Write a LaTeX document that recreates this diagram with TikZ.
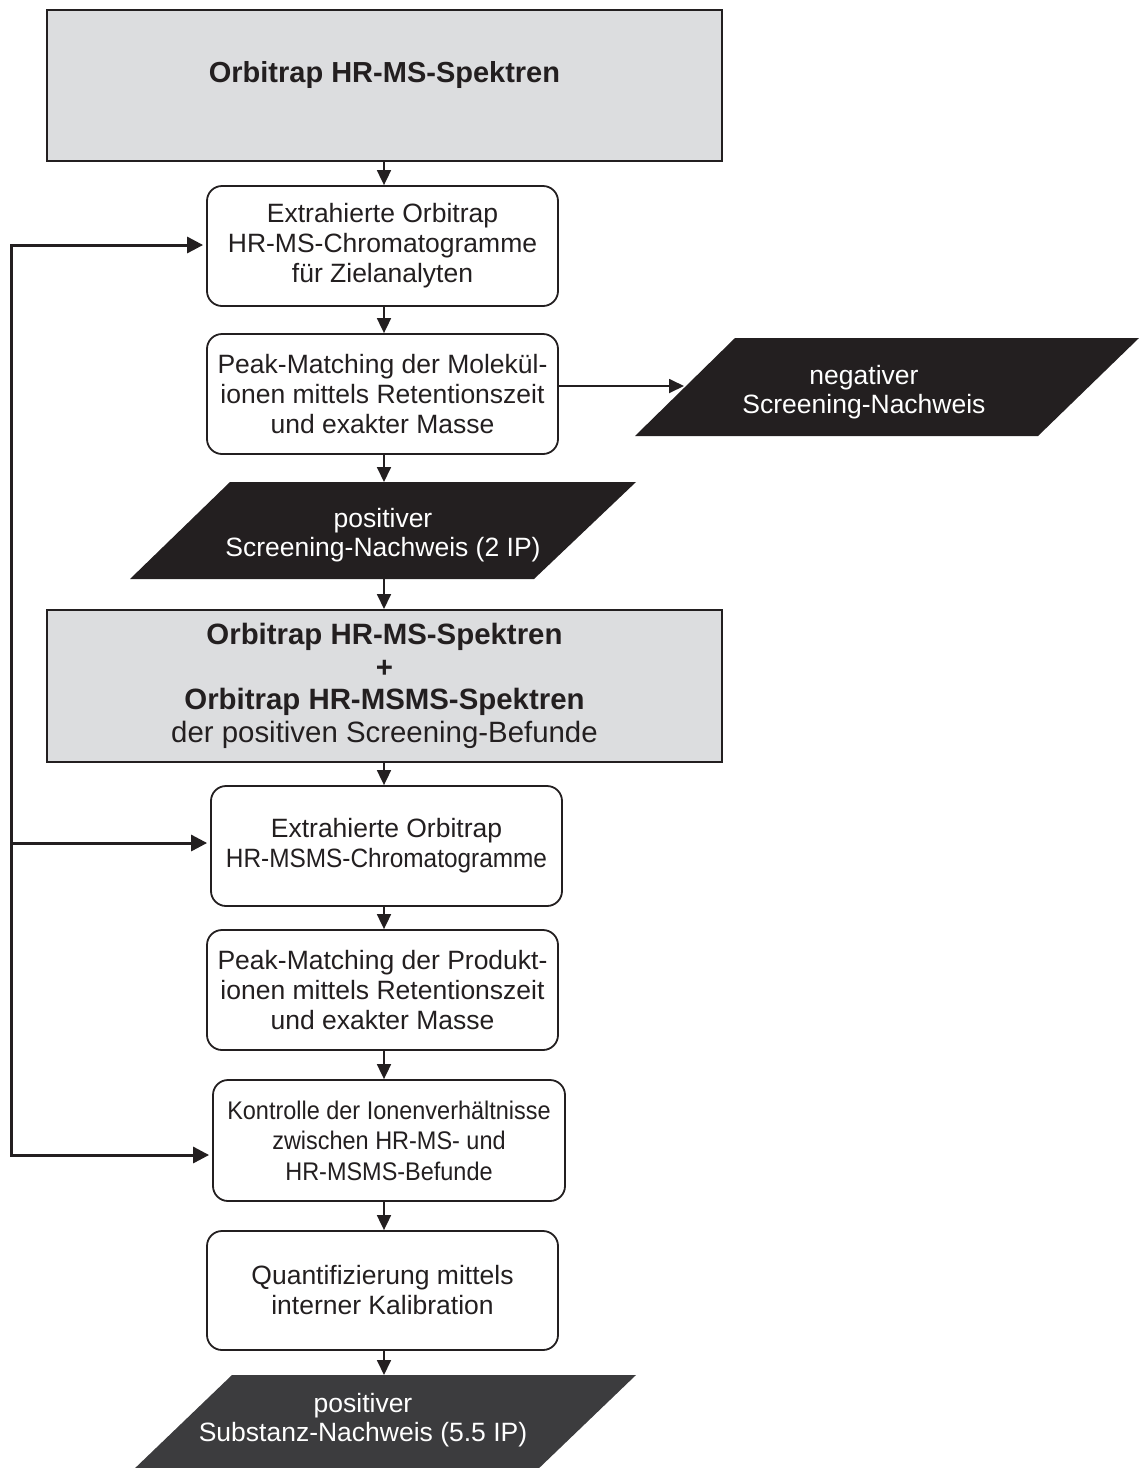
\documentclass[tikz,border=0pt]{standalone}
\usepackage{fontspec}
\setmainfont{Liberation Sans}
\newfontfamily\condfont[FakeStretch=0.92]{Liberation Sans}
\usetikzlibrary{arrows.meta}
\definecolor{ink}{HTML}{231F20}
\definecolor{boxgray}{HTML}{DCDDDF}
\definecolor{darkpar}{HTML}{3C3C3E}
\tikzset{
  graybox/.style={draw=ink, line width=2pt, fill=boxgray, inner sep=0pt, align=center, text=ink},
  rbox/.style={draw=ink, line width=1.8pt, rounded corners=15pt, fill=white, inner sep=0pt, align=center, text=ink,
     font=\fontsize{26.5}{30}\selectfont},
  partext/.style={inner sep=0pt, align=center, text=white, font=\fontsize{26.5}{29.5}\selectfont},
  arr/.style={draw=ink, line width=1.8pt, -{Triangle[length=15pt,width=14pt]}},
  fbarr/.style={draw=ink, line width=3pt, line join=miter, -{Triangle[length=16pt,width=16pt]}, shorten >=3pt},
}
\begin{document}
\begin{tikzpicture}[x=1pt,y=-1pt]
\useasboundingbox (0,0) rectangle (1139,1468);
\coordinate (cx) at (384,0);

% top gray box
\node[graybox, minimum width=675pt, minimum height=151pt] (g1) at (384.5,85.5) {};
\node[anchor=base, inner sep=0pt, text=ink, font=\fontsize{29}{33}\selectfont\bfseries] (g1t) at (384.5,82) {Orbitrap HR-MS-Spektren};

\node[rbox, minimum width=351pt, minimum height=120pt] (b2) at (382.5,246) {Extrahierte Orbitrap\\HR-MS-Chromatogramme\\für Zielanalyten};
\node[rbox, minimum width=351pt, minimum height=120pt] (b3) at (382.5,394) {Peak-Matching der Molekül-\\ionen mittels Retentionszeit\\und exakter Masse};

% negative parallelogram
\fill[ink] (735,338) -- (1139,338) -- (1038,436) -- (635,436) -- cycle;
\node[partext] (neg) at (864,392) {negativer\\Screening-Nachweis};
\coordinate (negin) at (684,386);

% positive screening parallelogram
\fill[ink] (230,482) -- (636,482) -- (534,579) -- (130,579) -- cycle;
\node[partext] (pos1) at (383,535) {positiver\\Screening-Nachweis (2 IP)};
\coordinate (p1top) at (384,482);
\coordinate (p1bot) at (384,579);

% second gray box
\node[graybox, minimum width=675pt, minimum height=152pt, font=\fontsize{29.4}{32.7}\selectfont] (g2) at (384.5,686)
  {\textbf{Orbitrap HR-MS-Spektren}\\\textbf{+}\\\textbf{Orbitrap HR-MSMS-Spektren}\\der positiven Screening-Befunde};

\node[rbox, minimum width=351pt, minimum height=120pt] (b5) at (386.5,846) {Extrahierte Orbitrap\\{\condfont HR-MSMS-Chromatogramme}};
\node[rbox, minimum width=351pt, minimum height=120pt] (b6) at (382.5,990) {Peak-Matching der Produkt-\\ionen mittels Retentionszeit\\und exakter Masse};
\node[rbox, minimum width=352pt, minimum height=121pt, font=\condfont\fontsize{25.5}{30.5}\selectfont] (b7) at (389,1140.5) {Kontrolle der Ionenverhältnisse\\zwischen HR-MS- und\\HR-MSMS-Befunde};
\node[rbox, minimum width=351pt, minimum height=119pt] (b8) at (382.5,1290.5) {Quantifizierung mittels\\interner Kalibration};

% bottom parallelogram
\fill[darkpar] (232,1375) -- (636,1375) -- (535,1472) -- (131,1472) -- cycle;
\node[partext] (pos2) at (363,1420) {positiver\\Substanz-Nachweis (5.5 IP)};
\coordinate (p2top) at (384,1375);

% main flow arrows
\draw[arr] (g1.south -| cx) -- (b2.north -| cx);
\draw[arr] (b2.south -| cx) -- (b3.north -| cx);
\draw[arr] (b3.east |- negin) -- (negin);
\draw[arr] (b3.south -| cx) -- (p1top);
\draw[arr] (p1bot) -- (g2.north -| cx);
\draw[arr] (g2.south -| cx) -- (b5.north -| cx);
\draw[arr] (b5.south -| cx) -- (b6.north -| cx);
\draw[arr] (b6.south -| cx) -- (b7.north -| cx);
\draw[arr] (b7.south -| cx) -- (b8.north -| cx);
\draw[arr] (b8.south -| cx) -- (p2top);

% feedback lines
\coordinate (fbt) at (11,245);
\coordinate (fbm) at (11,843);
\coordinate (fbb) at (11,1155);
\draw[fbarr] (fbb) -- (fbt) -- (fbt -| b2.west);
\draw[fbarr] (fbt) -- (fbb) -- (fbb -| b7.west);
\draw[fbarr] (fbm) -- (fbm -| b5.west);
\end{tikzpicture}
\end{document}
